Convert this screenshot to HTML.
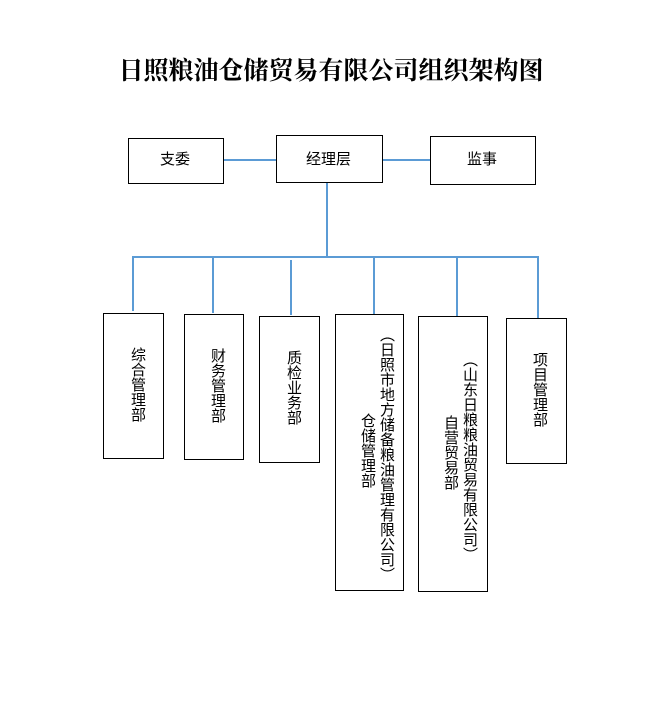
<!DOCTYPE html>
<html><head><meta charset="utf-8"><style>
body{margin:0;width:662px;height:709px;background:#fff;position:relative;overflow:hidden;font-family:"Liberation Sans","Noto Sans CJK SC",sans-serif}
.b{position:absolute;border:1.3px solid #000;box-sizing:border-box;background:#fff}
.t{position:absolute;font-size:15px;line-height:15px;color:#000;white-space:nowrap}
.v{position:absolute;writing-mode:vertical-rl;font-size:15px;line-height:18px;white-space:nowrap;color:#000}
.h{position:absolute;background:#5b9bd5;height:1.5px}
.l{position:absolute;background:#5b9bd5;width:1.5px}
</style></head><body>
<div style="position:absolute;top:51px;left:0;width:662px;text-align:center;font:bold 25px 'Liberation Serif','Noto Serif CJK SC',serif">日照粮油仓储贸易有限公司组织架构图</div>
<div class="h" style="left:223px;top:159px;width:54px"></div>
<div class="h" style="left:382px;top:159px;width:48px"></div>
<div class="l" style="left:326px;top:182px;height:75px"></div>
<div class="h" style="left:132px;top:256px;width:407px"></div>
<div class="l" style="left:132px;top:256px;height:55px"></div>
<div class="l" style="left:212px;top:256px;height:57px"></div>
<div class="l" style="left:290px;top:260px;height:55px"></div>
<div class="l" style="left:373px;top:256px;height:58px"></div>
<div class="l" style="left:456px;top:256px;height:60px"></div>
<div class="l" style="left:537px;top:256px;height:62px"></div>
<div class="b" style="left:128px;top:138px;width:96px;height:46px"></div><div class="t" style="left:160px;top:152px">支委</div>
<div class="b" style="left:276px;top:135px;width:107px;height:48px"></div><div class="t" style="left:306px;top:152px">经理层</div>
<div class="b" style="left:430px;top:136px;width:106px;height:49px"></div><div class="t" style="left:467px;top:152px">监事</div>
<div class="b" style="left:103px;top:313px;width:61px;height:146px"></div><div class="v" style="left:128px;top:347px">综合管理部</div>
<div class="b" style="left:184px;top:314px;width:60px;height:146px"></div><div class="v" style="left:208px;top:348px">财务管理部</div>
<div class="b" style="left:259px;top:316px;width:61px;height:147px"></div><div class="v" style="left:284px;top:350px">质检业务部</div>
<div class="b" style="left:335px;top:314px;width:69px;height:277px"></div>
<div class="v" style="left:377px;top:327px">（日照市地方储备粮油管理有限公司）</div>
<div class="v" style="left:358px;top:413px">仓储管理部</div>
<div class="b" style="left:418px;top:316px;width:70px;height:276px"></div>
<div class="v" style="left:460px;top:352px">（山东日粮粮油贸易有限公司）</div>
<div class="v" style="left:441px;top:415px">自营贸易部</div>
<div class="b" style="left:506px;top:318px;width:61px;height:146px"></div><div class="v" style="left:530px;top:352px">项目管理部</div>
</body></html>
